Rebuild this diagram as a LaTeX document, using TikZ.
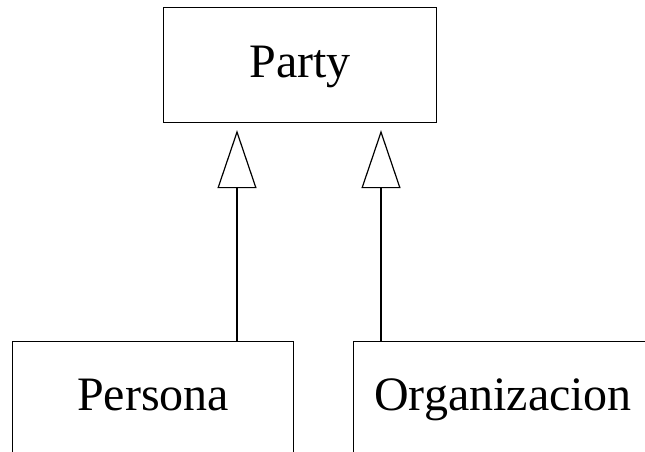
\documentclass[tikz,border=0pt]{standalone}
\usepackage{fontspec}
\setmainfont{Liberation Serif}
\usetikzlibrary{arrows.meta}

\begin{document}
\begin{tikzpicture}[x=1pt,y=-1pt,line width=1.2pt,
  clase/.style={draw, rectangle, inner sep=0pt, anchor=north west, font=\fontsize{48}{58}\selectfont},
  hereda/.style={-{Triangle[open,length=58pt,width=39pt]}, shorten >=7pt}]
\path[use as bounding box, clip] (0,0) rectangle (645,452);
\node[clase, minimum width=273pt, text height=70pt, text depth=45pt] (party) at (163,7) {Party};
\node[clase, minimum width=281pt, text height=69pt, text depth=70pt] (persona) at (12,341) {Persona};
\node[clase, minimum width=299pt, text height=69pt, text depth=70pt] (organizacion) at (353,341) {Organizacion};
\coordinate (c1) at (237,0);
\coordinate (c2) at (381,0);
\path[draw,hereda] (persona.north -| c1) -- (party.south -| c1);
\path[draw,hereda] (organizacion.north -| c2) -- (party.south -| c2);
\end{tikzpicture}
\end{document}
